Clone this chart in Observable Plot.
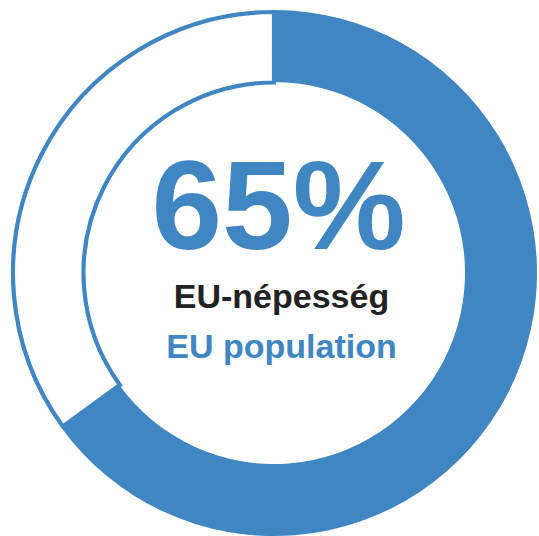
<!DOCTYPE html>
<html><head><meta charset="utf-8">
<script src="https://cdn.jsdelivr.net/npm/d3@7"></script>
<script src="https://cdn.jsdelivr.net/npm/@observablehq/plot@0.6"></script>
<style>html,body{margin:0;padding:0;background:#fff;overflow:hidden} svg{display:block}</style>
</head><body><div id="chart"></div>
<script>
// Data
const segments = ["EU population", "Rest"];
const shares = [65, 35];
const headline = ["65%"];
const labelHu = ["EU-népesség"];
const labelEn = ["EU population"];

// Layout
const W = 539, H = 536;
const cx = 274, cy = 273, rOuter = 263, rInner = 191;
const blue = "#4086c2";

const pie = d3.pie().sort(null).value(d => d)(shares);

function donut(index, scales) {
  const X = scales.x(cx), Y = scales.y(cy);
  const g = d3.create("svg:g").attr("transform", `translate(${X},${Y})`);
  const filled = d3.arc().innerRadius(rInner).outerRadius(rOuter);
  const empty = d3.arc().innerRadius(rInner - 0.5).outerRadius(rOuter - 2);
  // remaining share: white with blue outline
  g.append("path").attr("d", empty(pie[1]))
    .attr("fill", "#fff").attr("stroke", blue).attr("stroke-width", 4.2);
  // main share: solid blue
  g.append("path").attr("d", filled(pie[0])).attr("fill", blue);
  return g.node();
}

const font = "Liberation Sans, Arial, sans-serif";
const chart = Plot.plot({
  width: W, height: H,
  margin: 0,
  x: {domain: [0, W], range: [0, W], axis: null},
  y: {domain: [0, H], range: [0, H], axis: null},
  marks: [
    donut,
    Plot.text(headline, {x: () => 278, y: () => 248, text: d => d, lineAnchor: "bottom",
      fill: blue, fontSize: 127, fontWeight: "bold", fontFamily: font}),
    Plot.text(labelHu, {x: () => 281, y: () => 307, text: d => d, lineAnchor: "bottom",
      fill: "#222", fontSize: 34, fontWeight: "bold", fontFamily: font}),
    Plot.text(labelEn, {x: () => 281, y: () => 357, text: d => d, lineAnchor: "bottom",
      fill: blue, fontSize: 34, fontWeight: "bold", fontFamily: font})
  ]
});
document.getElementById("chart").append(chart);
</script>
</body></html>
